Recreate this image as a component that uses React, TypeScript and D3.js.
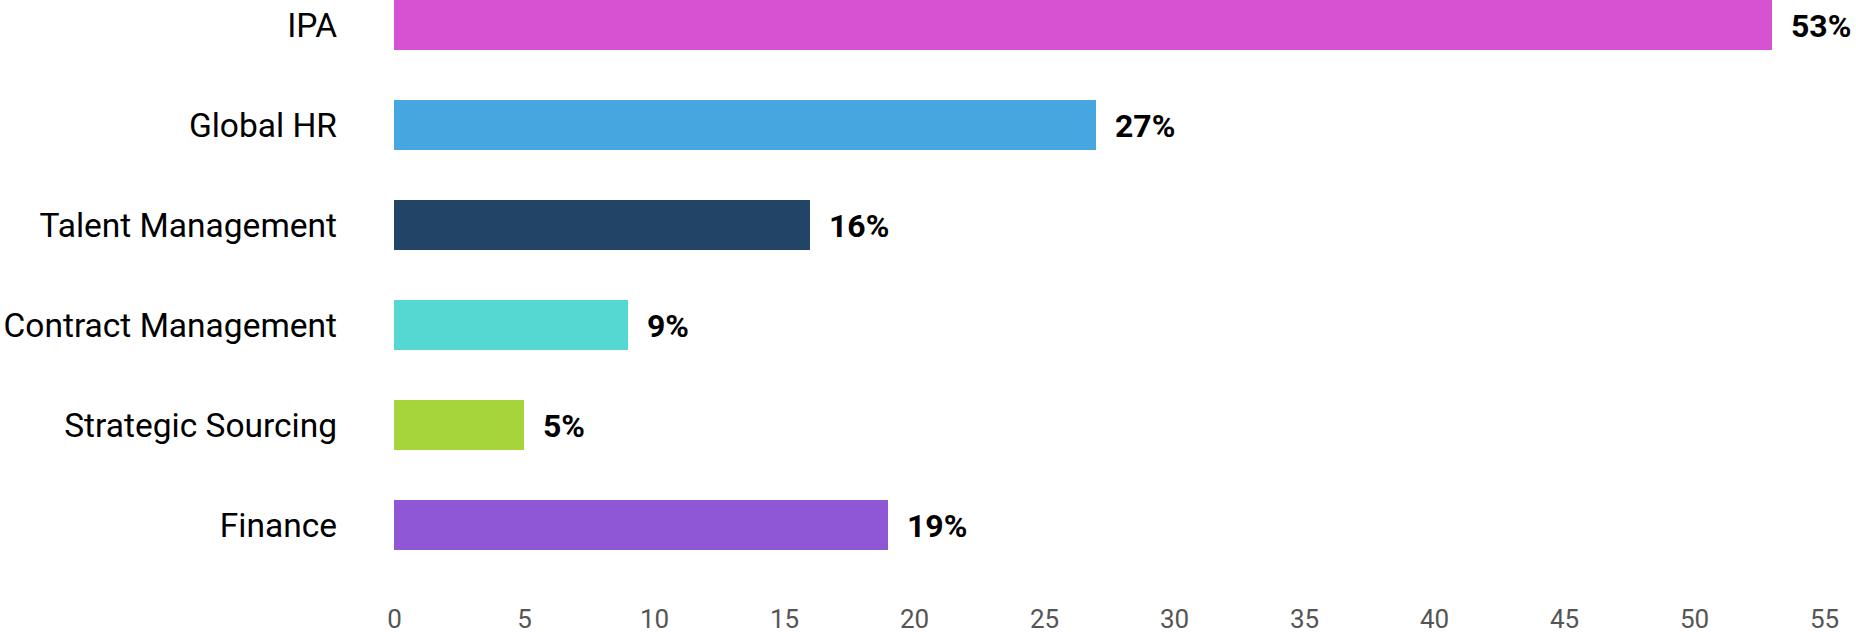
import React, { useEffect, useRef } from "react";
import { select, scaleLinear, scaleBand, axisBottom } from "d3";

const categories = [
  "IPA",
  "Global HR",
  "Talent Management",
  "Contract Management",
  "Strategic Sourcing",
  "Finance",
];
const values = [53, 27, 16, 9, 5, 19];
const colors = ["#d652d3", "#46a6df", "#224466", "#55d8d1", "#a6d43b", "#8f56d5"];
const tickValues = [0, 5, 10, 15, 20, 25, 30, 35, 40, 45, 50, 55];

const width = 1856;
const height = 632;

const App = () => {
  const svgRef = useRef<SVGSVGElement>(null);

  useEffect(() => {
    const xScale = scaleLinear().domain([0, 55]).range([394, 1824]);
    const yScale = scaleBand<string>()
      .domain(categories)
      .range([0, 550])
      .paddingInner(0.5)
      .paddingOuter(0);

    const svg = select(svgRef.current);
    svg.selectAll("*").remove();

    const rows = svg
      .append("g")
      .selectAll("g")
      .data(categories)
      .enter()
      .append("g");

    rows
      .append("rect")
      .attr("x", xScale(0))
      .attr("y", (d) => yScale(d) as number)
      .attr("width", (_d, i) => xScale(values[i]) - xScale(0))
      .attr("height", yScale.bandwidth())
      .attr("fill", (_d, i) => colors[i]);

    // category names on the left
    rows
      .append("text")
      .attr("x", 337)
      .attr("y", (d) => (yScale(d) as number) + yScale.bandwidth() / 2)
      .attr("dy", "0.36em")
      .attr("text-anchor", "end")
      .attr("font-family", "Roboto")
      .attr("font-size", 33.5)
      .attr("fill", "#000")
      .text((d) => d);

    // value labels at the end of each bar
    rows
      .append("text")
      .attr("x", (_d, i) => xScale(values[i]) + 19)
      .attr("y", (d) => (yScale(d) as number) + yScale.bandwidth() / 2)
      .attr("dy", "0.36em")
      .attr("font-family", "Roboto")
      .attr("font-weight", "bold")
      .attr("font-size", 32)
      .attr("fill", "#000")
      .text((_d, i) => `${values[i]}%`);

    const axis = svg
      .append("g")
      .attr("transform", "translate(0,628)")
      .call(axisBottom(xScale).tickValues(tickValues).tickSize(0));

    axis.select(".domain").remove();
    axis
      .selectAll("text")
      .attr("y", 0)
      .attr("dy", 0)
      .attr("font-family", "Roboto")
      .attr("font-size", 26)
      .attr("fill", "#555");
  }, []);

  return (
    <svg
      ref={svgRef}
      width={width}
      height={height}
      style={{ position: "absolute", left: 0, top: 0, background: "#fff" }}
    ></svg>
  );
};

export default App;
